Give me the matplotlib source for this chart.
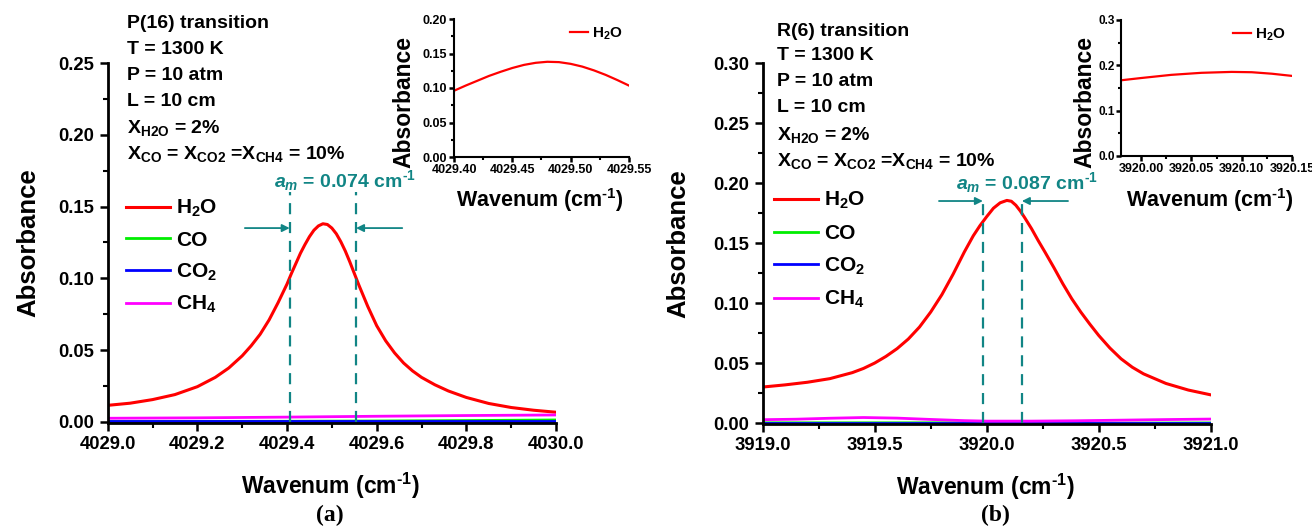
import matplotlib
matplotlib.use("Agg")
import matplotlib.pyplot as plt
from matplotlib.ticker import MultipleLocator, FormatStrFormatter

plt.rcParams['font.family'] = ['Liberation Sans', 'DejaVu Sans']
plt.rcParams['font.weight'] = 'bold'
plt.rcParams['mathtext.fontset'] = 'custom'
plt.rcParams['mathtext.rm'] = 'Liberation Sans:bold'
plt.rcParams['mathtext.it'] = 'Liberation Sans:bold:italic'
plt.rcParams['mathtext.bf'] = 'Liberation Sans:bold'

# ---- (a) P(16) transition ----
wn_a = [4029.00, 4029.05, 4029.10, 4029.15, 4029.20, 4029.24, 4029.27, 4029.30,
        4029.32, 4029.34, 4029.36, 4029.38, 4029.40, 4029.41, 4029.42, 4029.43,
        4029.44, 4029.45, 4029.46, 4029.47, 4029.48, 4029.49, 4029.50, 4029.51,
        4029.52, 4029.53, 4029.54, 4029.55, 4029.56, 4029.58, 4029.60, 4029.62,
        4029.64, 4029.66, 4029.68, 4029.70, 4029.73, 4029.76, 4029.80, 4029.85,
        4029.90, 4029.95, 4030.00]
h2o_a = [0.0115, 0.0130, 0.0155, 0.0190, 0.0245, 0.0310, 0.0375, 0.0460,
         0.0530, 0.0610, 0.0710, 0.0830, 0.0960, 0.1035, 0.1105, 0.1175,
         0.1235, 0.1290, 0.1335, 0.1365, 0.1380, 0.1375, 0.1350, 0.1310,
         0.1255, 0.1190, 0.1115, 0.1035, 0.0955, 0.0805, 0.0670, 0.0565,
         0.0480, 0.0410, 0.0355, 0.0310, 0.0258, 0.0215, 0.0170, 0.0128,
         0.0100, 0.0081, 0.0067]
wn_a_minor = [4029.0, 4029.2, 4029.4, 4029.6, 4029.8, 4030.0]
co_a = [0.0002, 0.0003, 0.0004, 0.0006, 0.0009, 0.0013]
co2_a = [0.0003, 0.0003, 0.0003, 0.0003, 0.0003, 0.0003]
ch4_a = [0.0025, 0.0028, 0.0033, 0.0039, 0.0044, 0.0048]
center_a = 4029.48
am_a = 0.074

# ---- (b) R(6) transition ----
wn_b = [3919.00, 3919.10, 3919.20, 3919.30, 3919.40, 3919.45, 3919.50, 3919.55,
        3919.60, 3919.65, 3919.70, 3919.75, 3919.80, 3919.85, 3919.90, 3919.94,
        3919.97, 3920.00, 3920.03, 3920.06, 3920.09, 3920.11, 3920.13, 3920.15,
        3920.17, 3920.20, 3920.23, 3920.26, 3920.30, 3920.34, 3920.38, 3920.42,
        3920.46, 3920.50, 3920.55, 3920.60, 3920.65, 3920.70, 3920.80, 3920.90,
        3921.00]
h2o_b = [0.0300, 0.0318, 0.0340, 0.0370, 0.0420, 0.0455, 0.0500, 0.0555,
         0.0620, 0.0700, 0.0800, 0.0925, 0.1070, 0.1240, 0.1425, 0.1560,
         0.1645, 0.1720, 0.1790, 0.1835, 0.1855, 0.1848, 0.1815, 0.1767,
         0.1710, 0.1620, 0.1520, 0.1425, 0.1295, 0.1160, 0.1035, 0.0925,
         0.0825, 0.0730, 0.0625, 0.0535, 0.0465, 0.0410, 0.0330, 0.0275,
         0.0235]
wn_b_minor = [3919.0, 3919.15, 3919.3, 3919.45, 3919.6, 3919.75, 3919.9,
              3920.0, 3920.2, 3920.4, 3920.6, 3920.8, 3921.0]
co_b = [0.0002, 0.0002, 0.0002, 0.0002, 0.0002, 0.0002, 0.0002,
        0.0001, 0.0001, 0.0000, -0.0001, 0.0000, 0.0001]
co2_b = [0.0002, 0.0002, 0.0002, 0.0002, 0.0002, 0.0002, 0.0002,
         0.0002, 0.0002, 0.0002, 0.0002, 0.0002, 0.0002]
ch4_b = [0.0028, 0.0032, 0.0040, 0.0046, 0.0041, 0.0030, 0.0020,
         0.0016, 0.0016, 0.0019, 0.0024, 0.0029, 0.0033]
center_b = 3920.07
am_b = 0.087

teal = '#118585'
W, H = 1312, 530
WAVENUM = r'Wavenum (cm$^{\text{-1}}$)'


def px_axes(left, top, right, bottom):
    return [left / W, 1 - bottom / H, (right - left) / W, (bottom - top) / H]


def style_axes(ax, tick_size, major_len=6, minor_len=3.5):
    for s in ['top', 'right']:
        ax.spines[s].set_visible(False)
    for s in ['left', 'bottom']:
        ax.spines[s].set_linewidth(2)
    ax.tick_params(which='major', direction='out', length=major_len, width=1.8,
                   labelsize=tick_size)
    ax.tick_params(which='minor', direction='out', length=minor_len, width=1.5)
    for lab in ax.get_xticklabels() + ax.get_yticklabels():
        lab.set_fontweight('bold')


def main_panel(ax, wn, h2o, wn2, co, co2, ch4, xlim, ylim, xmaj, ymaj):
    ax.plot(wn, h2o, color='red', lw=2.2, label=r'H$_{\rm 2}$O')
    ax.plot(wn2, co, color='#00ee00', lw=2, label='CO')
    ax.plot(wn2, co2, color='blue', lw=2, label=r'CO$_{\rm 2}$')
    ax.plot(wn2, ch4, color='magenta', lw=2, label=r'CH$_{\rm 4}$')
    ax.set_xlim(*xlim)
    ax.set_ylim(*ylim)
    ax.xaxis.set_major_locator(MultipleLocator(xmaj))
    ax.xaxis.set_minor_locator(MultipleLocator(xmaj / 2))
    ax.yaxis.set_major_locator(MultipleLocator(ymaj))
    ax.yaxis.set_minor_locator(MultipleLocator(ymaj / 2))
    ax.xaxis.set_major_formatter(FormatStrFormatter('%.1f'))
    ax.yaxis.set_major_formatter(FormatStrFormatter('%.2f'))
    style_axes(ax, 13.3)
    ax.set_xlabel(WAVENUM, fontsize=16.5, fontweight='bold')
    ax.set_ylabel('Absorbance', fontsize=18.5, fontweight='bold')
    ax.xaxis.set_label_coords(0.496, -0.133)


def inset_panel(ax, wn, h2o, xlim, ylim, ymaj, yfmt):
    ax.plot(wn, h2o, color='red', lw=1.6, label=r'H$_{\rm 2}$O')
    ax.set_xlim(*xlim)
    ax.set_ylim(*ylim)
    ax.xaxis.set_major_locator(MultipleLocator(0.05))
    ax.xaxis.set_minor_locator(MultipleLocator(0.025))
    ax.yaxis.set_major_locator(MultipleLocator(ymaj))
    ax.yaxis.set_minor_locator(MultipleLocator(ymaj / 2))
    ax.xaxis.set_major_formatter(FormatStrFormatter('%.2f'))
    ax.yaxis.set_major_formatter(FormatStrFormatter(yfmt))
    style_axes(ax, 9, major_len=3.5, minor_len=2)
    for s in ['left', 'bottom']:
        ax.spines[s].set_linewidth(1.5)
    ax.tick_params(which='both', pad=1.5)
    ax.set_xlabel(WAVENUM, fontsize=15.5, fontweight='bold')
    ax.set_ylabel('Absorbance', fontsize=16.5, fontweight='bold')
    ax.legend(loc='upper right', frameon=False, fontsize=11, handlelength=1.2,
              handletextpad=0.25, borderaxespad=0.0)


def annotate_am(ax, center, am, y_dash, y_arrow, x_left, x_right):
    for xd in (center - am, center + am):
        ax.plot([xd, xd], [0, y_dash], color=teal, lw=1.6, ls=(0, (5, 3.5)))
    arrow = dict(arrowstyle='-|>', color=teal, lw=1.3, mutation_scale=11,
                 shrinkA=0, shrinkB=0)
    ax.annotate('', xy=(center - am, y_arrow), xytext=(x_left, y_arrow),
                arrowprops=arrow)
    ax.annotate('', xy=(center + am, y_arrow), xytext=(x_right, y_arrow),
                arrowprops=arrow)


def info_block(x, y0, name):
    lines = [name, 'T = 1300 K', 'P = 10 atm', 'L = 10 cm',
             r'X$_{\rm H2O}$ = 2%',
             r'X$_{\rm CO}$ = X$_{\rm CO2}$ =X$_{\rm CH4}$ = 10%']
    ys = [0, 25, 51, 77, 104, 130]
    for line, dy in zip(lines, ys):
        fig.text(x / W, 1 - (y0 + dy) / H, line, fontsize=14,
                 fontweight='bold', va='center', ha='left')


fig = plt.figure(figsize=(13.12, 5.30), dpi=100)

ax1 = fig.add_axes(px_axes(107.7, 63, 556, 423))
main_panel(ax1, wn_a, h2o_a, wn_a_minor, co_a, co2_a, ch4_a,
           (4029.0, 4030.0), (-0.0008, 0.25), 0.2, 0.05)
ax1.yaxis.set_label_coords(-0.151, 0.5)
annotate_am(ax1, center_a, am_a, 0.160, 0.135, 4029.306, 4029.657)
ax1.legend(loc='upper left', bbox_to_anchor=(126 / W, 1 - 198 / H),
           bbox_transform=fig.transFigure, frameon=False, fontsize=15,
           handlelength=2.1, handletextpad=0.3, labelspacing=0.55,
           borderpad=0, borderaxespad=0)

ax2 = fig.add_axes(px_axes(762.7, 63, 1210.7, 424))
main_panel(ax2, wn_b, h2o_b, wn_b_minor, co_b, co2_b, ch4_b,
           (3919.0, 3921.0), (-0.0008, 0.30), 0.5, 0.05)
ax2.yaxis.set_label_coords(-0.162, 0.5)
annotate_am(ax2, center_b, am_b, 0.188, 0.185, 3919.787, 3920.363)
ax2.legend(loc='upper left', bbox_to_anchor=(774 / W, 1 - 190 / H),
           bbox_transform=fig.transFigure, frameon=False, fontsize=15,
           handlelength=2.1, handletextpad=0.3, labelspacing=0.6,
           borderpad=0, borderaxespad=0)

info_block(127, 24, 'P(16) transition')
info_block(777, 31, 'R(6) transition')

fig.text(345 / W, 1 - 181 / H, r'$a_m$ = %.3f cm$^{\text{-1}}$' % am_a,
         color=teal, fontsize=14, fontweight='bold', ha='center', va='center')
fig.text(1027 / W, 1 - 183 / H, r'$a_m$ = %.3f cm$^{\text{-1}}$' % am_b,
         color=teal, fontsize=14, fontweight='bold', ha='center', va='center')

in1 = fig.add_axes(px_axes(454, 19, 629, 157))
inset_panel(in1, wn_a, h2o_a, (4029.40, 4029.55), (0, 0.20), 0.05, '%.2f')
in1.yaxis.set_label_coords(-0.22, 0.40)
in1.xaxis.set_label_coords(0.49, -0.21)

in2 = fig.add_axes(px_axes(1121, 20, 1292, 156))
inset_panel(in2, wn_b, h2o_b, (3919.98, 3920.15), (0, 0.30), 0.1, '%.1f')
in2.tick_params(axis='y', labelsize=8.5, pad=1)
in2.yaxis.set_label_coords(-0.145, 0.40)
in2.xaxis.set_label_coords(0.52, -0.22)

fig.text(330 / W, 1 - 515 / H, '(a)', family='Liberation Serif',
         fontsize=17, fontweight='bold', ha='center', va='center')
fig.text(995 / W, 1 - 515 / H, '(b)', family='Liberation Serif',
         fontsize=17, fontweight='bold', ha='center', va='center')

fig.savefig('out.png', dpi=100, facecolor='white')
